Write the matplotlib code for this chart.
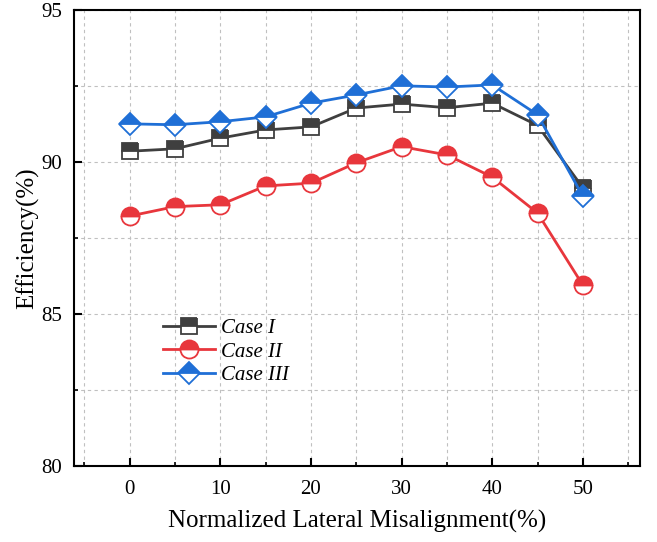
import numpy as np
import matplotlib.pyplot as plt
from matplotlib.ticker import MultipleLocator

plt.rcParams["font.family"] = ["Liberation Serif", "DejaVu Serif"]

misalignment = [0, 5, 10, 15, 20, 25, 30, 35, 40, 45, 50]
case_1 = [90.35, 90.43, 90.78, 91.05, 91.15, 91.77, 91.90, 91.78, 91.93, 91.20, 89.15]
case_2 = [88.22, 88.53, 88.59, 89.21, 89.30, 89.97, 90.50, 90.23, 89.50, 88.32, 85.95]
case_3 = [91.25, 91.22, 91.32, 91.48, 91.93, 92.20, 92.50, 92.46, 92.53, 91.55, 88.87]

series = [
    ("Case I", case_1, "#3f3f3f", "s", 11.5),
    ("Case II", case_2, "#e8363c", "o", 13),
    ("Case III", case_3, "#1f6fd6", "D", 11),
]

fig = plt.figure(figsize=(6.57, 5.42), dpi=100)
ax = fig.add_axes([0.112, 0.14, 0.862, 0.842])

for name, values, colour, marker, size in series:
    ax.plot(
        misalignment,
        values,
        color=colour,
        linewidth=2,
        marker=marker,
        markersize=size,
        fillstyle="top",
        markerfacecolor=colour,
        markerfacecoloralt="white",
        markeredgecolor=colour,
        markeredgewidth=1.3,
        label=name,
    )

ax.set_xlim(-6.2, 56.3)
ax.set_ylim(80, 95)
ax.xaxis.set_major_locator(MultipleLocator(10))
ax.xaxis.set_minor_locator(MultipleLocator(5))
ax.yaxis.set_major_locator(MultipleLocator(5))
ax.yaxis.set_minor_locator(MultipleLocator(2.5))
ax.tick_params(which="major", direction="in", length=6, width=1.5, labelsize=15, pad=10)
ax.tick_params(which="minor", direction="in", length=3, width=1.2)
ax.tick_params(axis="y", which="major", pad=8)
ax.grid(which="both", linestyle=(0, (3, 3)), color="#c0c0c0", linewidth=0.8)
ax.set_axisbelow(True)
for spine in ax.spines.values():
    spine.set_linewidth(1.5)

ax.set_xlabel("Normalized Lateral Misalignment(%)", fontsize=18, labelpad=8)
ax.set_ylabel("Efficiency(%)", fontsize=18, labelpad=2)

leg = ax.legend(
    loc="upper left",
    bbox_to_anchor=(0.125, 0.365),
    frameon=False,
    prop={"style": "italic", "size": 15},
    handlelength=2.5,
    handletextpad=0.3,
    labelspacing=0.2,
)

fig.savefig("out.png", dpi=100)
